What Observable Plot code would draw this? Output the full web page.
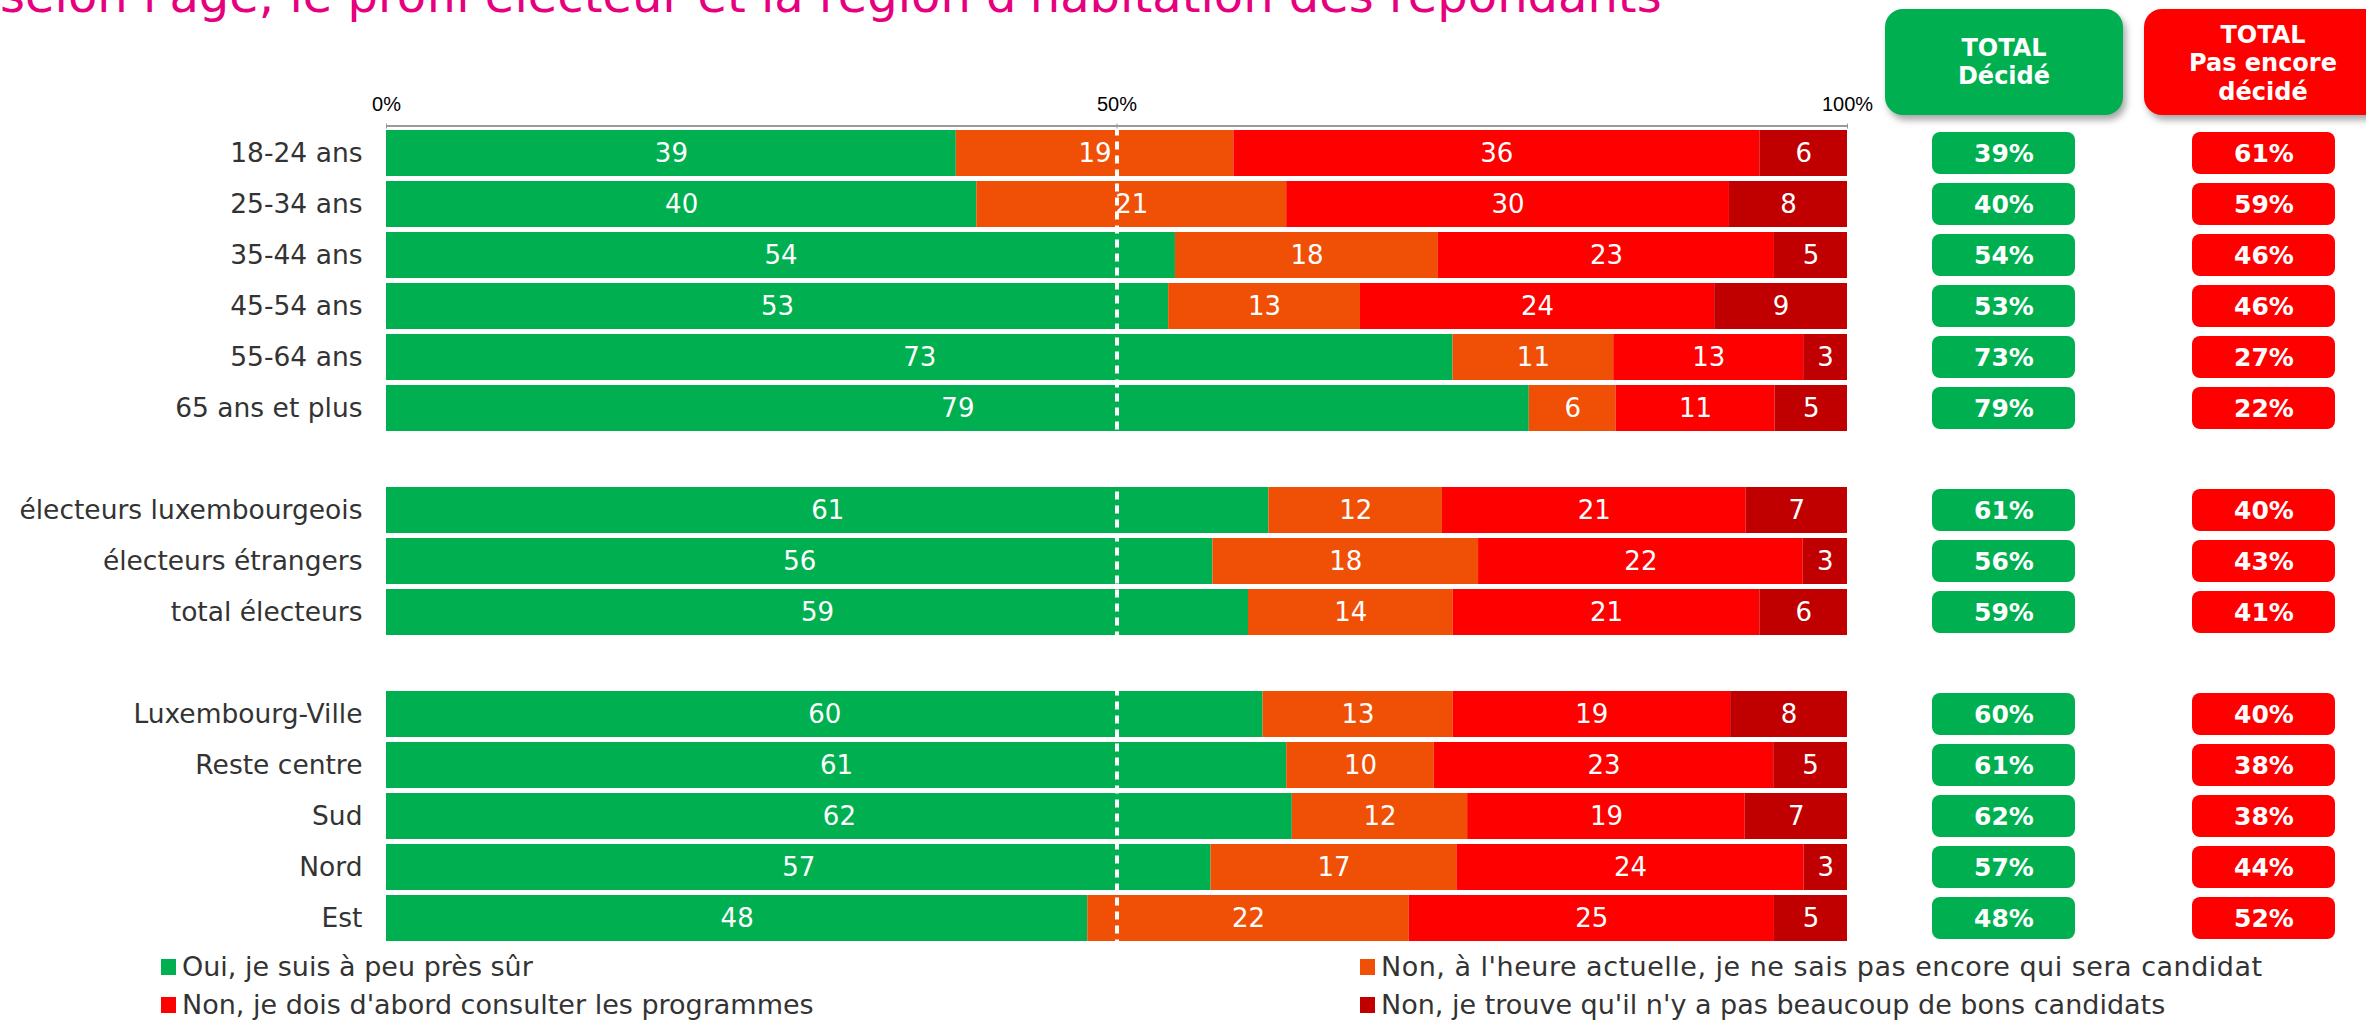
<!DOCTYPE html>
<html>
<head>
<meta charset="utf-8">
<script src="https://cdn.jsdelivr.net/npm/d3@7"></script>
<script src="https://cdn.jsdelivr.net/npm/@observablehq/plot@0.6"></script>
<style>
  html, body { margin: 0; padding: 0; background: #fff; }
  #root { position: relative; width: 2366px; height: 1022px; overflow: hidden; font-family: "DejaVu Sans", sans-serif; }
  #title { position: absolute; left: 0px; top: -29px; font-size: 48px; line-height: 1; color: #E6007E; white-space: nowrap; }
  .hdr { position: absolute; top: 9px; width: 238px; height: 106px; border-radius: 18px; color: #fff; font-weight: bold; font-size: 24px; line-height: 28px; display: flex; flex-direction: column; justify-content: center; align-items: center; text-align: center; box-shadow: 3px 5px 7px rgba(0,0,0,0.35); box-sizing: border-box; }
  #main { position: absolute; left: 0; top: 0; }
  #totals { position: absolute; left: 1880px; top: 0; }
  #legend { position: absolute; left: 161px; top: 948px; display: grid; grid-template-columns: 1199px auto; font-size: 27px; line-height: 38px; color: #333; }
  .li { display: flex; align-items: center; white-space: nowrap; }
  .sw { width: 15px; height: 16px; margin-right: 6px; flex: none; }
</style>
</head>
<body>
<div id="root">
  <div id="title">selon l'âge, le profil électeur et la région d'habitation des répondants</div>
  <div id="main"></div>
  <div id="totals"></div>
  <div class="hdr" style="left:1885px;background:#00B050;"><div>TOTAL</div><div>Décidé</div></div>
  <div class="hdr" style="left:2144px;background:#FF0000;padding-top:3px;line-height:28.5px;"><div>TOTAL</div><div>Pas encore</div><div>décidé</div></div>
  <div id="legend"></div>
</div>
<script>
// ---- Data ----
const rows = [
  "18-24 ans", "25-34 ans", "35-44 ans", "45-54 ans", "55-64 ans", "65 ans et plus",
  "électeurs luxembourgeois", "électeurs étrangers", "total électeurs",
  "Luxembourg-Ville", "Reste centre", "Sud", "Nord", "Est"
];
const categories = [
  "Oui, je suis à peu près sûr",
  "Non, à l'heure actuelle, je ne sais pas encore qui sera candidat",
  "Non, je dois d'abord consulter les programmes",
  "Non, je trouve qu'il n'y a pas beaucoup de bons candidats"
];
const oui            = [39, 40, 54, 53, 73, 79, 61, 56, 59, 60, 61, 62, 57, 48];
const nonHeure       = [19, 21, 18, 13, 11,  6, 12, 18, 14, 13, 10, 12, 17, 22];
const nonProgrammes  = [36, 30, 23, 24, 13, 11, 21, 22, 21, 19, 23, 19, 24, 25];
const nonCandidats   = [ 6,  8,  5,  9,  3,  5,  7,  3,  6,  8,  5,  7,  3,  5];
const totalDecide    = [39, 40, 54, 53, 73, 79, 61, 56, 59, 60, 61, 62, 57, 48];
const totalPasDecide = [61, 59, 46, 46, 27, 22, 40, 43, 41, 40, 38, 38, 44, 52];
const totalHeaders   = ["TOTAL Décidé", "TOTAL Pas encore décidé"];
const colors = ["#00B050", "#F05006", "#FF0000", "#C00000"];
const totalColors = ["#00B050", "#FF0000"];
const xTicks = [0, 0.5, 1];

// ---- Build tables ----
const series = [oui, nonHeure, nonProgrammes, nonCandidats];
const table = [];
rows.forEach((r, i) => categories.forEach((c, k) => table.push({row: r, cat: c, value: series[k][i]})));
const totals = [];
rows.forEach((r, i) => {
  totals.push({row: r, col: totalHeaders[0], value: totalDecide[i]});
  totals.push({row: r, col: totalHeaders[1], value: totalPasDecide[i]});
});
const yDomain = [...rows.slice(0, 6), "\u00b71", ...rows.slice(6, 9), "\u00b72", ...rows.slice(9)];
const yScale = {domain: yDomain, paddingInner: 0.1, paddingOuter: 0.05, label: null};
const H = 950, MT = 127.5, MB = 6.5;

const main = Plot.plot({
  width: 1880, height: H,
  marginLeft: 386, marginRight: 33, marginTop: MT, marginBottom: MB,
  style: {fontFamily: "DejaVu Sans", color: "#333", background: "transparent"},
  x: {domain: [0, 1], label: null},
  y: yScale,
  color: {domain: categories, range: colors},
  marks: [
    Plot.barX(table, Plot.stackX({x: "value", y: "row", fill: "cat", offset: "normalize"})),
    Plot.text(table, Plot.stackX({x: "value", y: "row", z: "cat", text: "value", offset: "normalize", fill: "white", fontSize: 26})),
    Plot.ruleX([0.5], {stroke: "white", strokeWidth: 4, strokeDasharray: "8,6"}),
    Plot.axisX({anchor: "top", label: null, ticks: xTicks, tickFormat: d3.format(".0%"), tickSize: 5, tickPadding: 12, fontSize: 20, fontFamily: "Liberation Sans", stroke: "#999", fill: "#000"}),
    Plot.axisY({label: null, tickSize: 0, tickPadding: 24, fontSize: 26.5, fill: "#333", tickFormat: d => d.startsWith("\u00b7") ? "" : d})
  ]
});
document.getElementById("main").appendChild(main);
// top axis line through the library's x scale
const sx = main.scale("x");
d3.select(main).append("line")
  .attr("x1", sx.apply(0)).attr("x2", sx.apply(1))
  .attr("y1", MT - 1.5).attr("y2", MT - 1.5)
  .attr("stroke", "#999").attr("stroke-width", 2);

const tot = Plot.plot({
  width: 486, height: H,
  marginLeft: 26, marginRight: 5, marginTop: MT, marginBottom: MB,
  style: {fontFamily: "DejaVu Sans", background: "transparent"},
  x: {domain: totalHeaders, paddingInner: 0.45, paddingOuter: 0.1, axis: null},
  y: {...yScale, axis: null},
  color: {domain: totalHeaders, range: totalColors},
  marks: [
    Plot.cell(totals, {x: "col", y: "row", fill: "col", rx: 8, insetTop: 2, insetBottom: 2}),
    Plot.text(totals, {x: "col", y: "row", text: d => d.value + "%", fill: "white", fontSize: 25, fontWeight: "bold"})
  ]
});
document.getElementById("totals").appendChild(tot);

// legend
const leg = document.getElementById("legend");
[0, 1, 2, 3].forEach(k => {
  const d = document.createElement("div");
  d.className = "li";
  const ls = k === 1 ? "letter-spacing:0.5px;" : "";
  d.innerHTML = `<span class="sw" style="background:${colors[k]}"></span><span style="${ls}">${categories[k]}</span>`;
  leg.appendChild(d);
});
</script>
</body>
</html>
